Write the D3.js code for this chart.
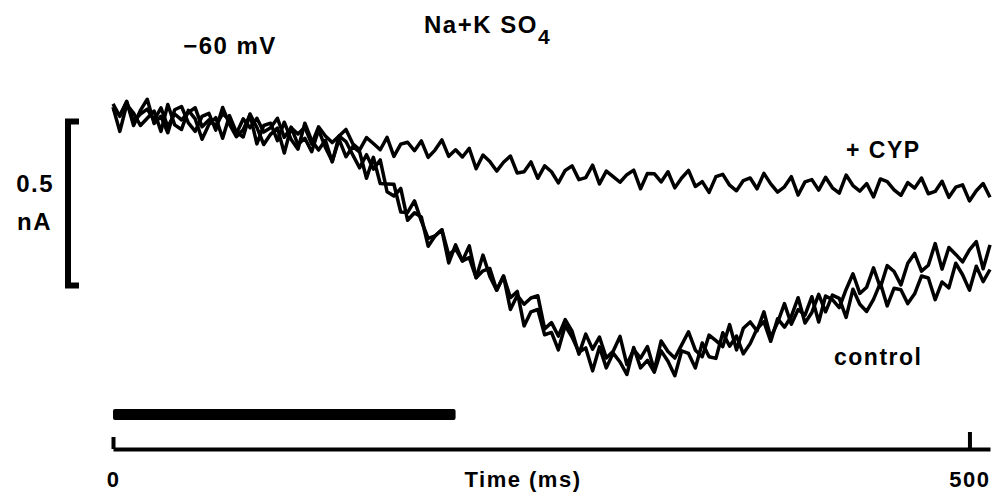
<!DOCTYPE html>
<html>
<head>
<meta charset="utf-8">
<script src="https://cdn.jsdelivr.net/npm/d3@7"></script>
<style>
  html, body { margin: 0; padding: 0; background: #fff; }
  svg text { font-family: "Liberation Sans", Arial, Helvetica, sans-serif; font-weight: bold; fill: #000; letter-spacing: 1.5px; }
</style>
</head>
<body>
<script>
// current traces in nA, one sample every 4 ms starting at t = 0
const sampleMs = 4;
const controlA = [
  0.034, -0.004, 0.042, -0.032, 0.014, 0.048, -0.026, -0.004, -0.054, 0.016,
  0.026, -0.024, -0.050, -0.004, 0.005, -0.046, 0.023, -0.028, -0.066, -0.045,
  0.001, -0.088, -0.032, -0.025, -0.078, -0.022, -0.075, -0.104, -0.025, -0.078,
  -0.107, -0.077, -0.143, -0.064, -0.081, -0.122, -0.161, -0.121, -0.165, -0.137,
  -0.234, -0.247, -0.224, -0.321, -0.298, -0.311, -0.400, -0.369, -0.350, -0.427,
  -0.408, -0.445, -0.399, -0.496, -0.475, -0.468, -0.534, -0.491, -0.593, -0.550,
  -0.577, -0.558, -0.551, -0.652, -0.633, -0.674, -0.624, -0.659, -0.729, -0.668,
  -0.714, -0.677, -0.741, -0.720, -0.675, -0.761, -0.715, -0.741, -0.706, -0.778,
  -0.689, -0.721, -0.741, -0.701, -0.661, -0.717, -0.737, -0.671, -0.688, -0.706,
  -0.639, -0.716, -0.650, -0.631, -0.658, -0.600, -0.678, -0.633, -0.575, -0.638,
  -0.593, -0.610, -0.554, -0.631, -0.552, -0.563, -0.587, -0.532, -0.484, -0.544,
  -0.525, -0.466, -0.526, -0.459, -0.477, -0.518, -0.452, -0.422, -0.476, -0.458,
  -0.392, -0.470, -0.404, -0.425, -0.448, -0.411, -0.386, -0.469, -0.396
];
const controlB = [
  0.024, -0.050, 0.032, 0.006, -0.032, -0.010, 0.012, -0.050, 0.032, -0.030,
  -0.044, 0.014, -0.012, -0.074, -0.029, -0.008, -0.071, -0.002, -0.052, -0.067,
  0.003, -0.038, -0.090, -0.059, -0.040, -0.116, -0.037, -0.090, -0.071, -0.112,
  -0.045, -0.099, -0.141, -0.074, -0.127, -0.096, -0.113, -0.193, -0.129, -0.209,
  -0.210, -0.211, -0.296, -0.297, -0.262, -0.323, -0.376, -0.369, -0.350, -0.451,
  -0.396, -0.445, -0.435, -0.496, -0.427, -0.492, -0.534, -0.491, -0.557, -0.538,
  -0.643, -0.600, -0.593, -0.670, -0.663, -0.716, -0.642, -0.677, -0.723, -0.710,
  -0.780, -0.707, -0.771, -0.726, -0.753, -0.791, -0.709, -0.771, -0.748, -0.784,
  -0.719, -0.751, -0.795, -0.719, -0.727, -0.771, -0.695, -0.737, -0.742, -0.664,
  -0.705, -0.674, -0.728, -0.697, -0.652, -0.630, -0.690, -0.621, -0.647, -0.614,
  -0.557, -0.634, -0.602, -0.547, -0.600, -0.549, -0.559, -0.617, -0.531, -0.577,
  -0.599, -0.562, -0.512, -0.582, -0.528, -0.533, -0.575, -0.545, -0.491, -0.497,
  -0.563, -0.509, -0.527, -0.452, -0.487, -0.534, -0.461, -0.508, -0.471
];
const cyp = [
  0.018, 0.000, 0.039, -0.019, 0.003, 0.018, -0.016, 0.022, -0.035, 0.003,
  -0.015, 0.008, 0.022, -0.036, -0.015, -0.033, 0.004, -0.015, -0.057, -0.012,
  -0.039, -0.010, -0.052, -0.039, -0.010, -0.068, -0.039, -0.058, -0.037, -0.089,
  -0.036, -0.064, -0.084, -0.064, -0.044, -0.088, -0.106, -0.069, -0.087, -0.106,
  -0.068, -0.126, -0.089, -0.083, -0.109, -0.079, -0.129, -0.107, -0.076, -0.126,
  -0.106, -0.128, -0.102, -0.164, -0.122, -0.142, -0.171, -0.144, -0.125, -0.177,
  -0.173, -0.143, -0.193, -0.155, -0.173, -0.207, -0.169, -0.155, -0.197, -0.191,
  -0.153, -0.210, -0.171, -0.188, -0.205, -0.182, -0.168, -0.225, -0.178, -0.179,
  -0.204, -0.173, -0.222, -0.192, -0.169, -0.218, -0.203, -0.236, -0.188, -0.181,
  -0.214, -0.231, -0.200, -0.192, -0.225, -0.178, -0.210, -0.235, -0.219, -0.188,
  -0.244, -0.204, -0.197, -0.229, -0.190, -0.222, -0.238, -0.183, -0.215, -0.232,
  -0.209, -0.250, -0.195, -0.203, -0.228, -0.245, -0.206, -0.223, -0.192, -0.240,
  -0.233, -0.202, -0.251, -0.220, -0.213, -0.262, -0.231, -0.209, -0.251
];
const timeTicks = [0, 500];
const stimulusMs = [0, 200];   // the -60 mV pulse
const scaleBar = [-0.02, -0.52]; // 0.5 nA

const width = 994, height = 492;

const svg = d3.select("body").append("svg")
    .attr("width", width)
    .attr("height", height);

const x = d3.scaleLinear().domain([0, 512]).range([113, 990]);
const y = d3.scaleLinear().domain([0, -0.5]).range([115, 279]);

const line = d3.line()
    .x((d, i) => x(i * sampleMs))
    .y(d => y(d));

[controlA, controlB, cyp].forEach(trace => {
  svg.append("path")
      .attr("d", line(trace))
      .style("fill", "none")
      .style("stroke", "#000")
      .style("stroke-width", 3.5)
      .style("stroke-linejoin", "round");
});

// labels on the traces
svg.append("text").attr("x", 846).attr("y", 158).style("font-size", "23px").text("+ CYP");
svg.append("text").attr("x", 834).attr("y", 365).style("font-size", "23px").text("control");

// top labels
svg.append("text").attr("x", 230).attr("y", 54).attr("text-anchor", "middle")
    .style("font-size", "24px").text("\u221260 mV");
const title = svg.append("text").attr("x", 424).attr("y", 33).style("font-size", "24px");
title.append("tspan").text("Na+K SO");
title.append("tspan").attr("dy", 11).style("font-size", "21px").text("4");

// vertical scale bar
svg.append("path")
    .attr("d", `M79,${y(scaleBar[0])} H68 V${y(scaleBar[1])} H79`)
    .style("fill", "none")
    .style("stroke", "#000")
    .style("stroke-width", 6);
svg.append("text").attr("x", 54).attr("y", 192).attr("text-anchor", "end")
    .style("font-size", "24px").text("0.5");
svg.append("text").attr("x", 52).attr("y", 230).attr("text-anchor", "end")
    .style("font-size", "24px").text("nA");

// stimulus bar
svg.append("rect")
    .attr("x", x(stimulusMs[0]))
    .attr("y", 409)
    .attr("width", x(stimulusMs[1]) - x(stimulusMs[0]))
    .attr("height", 11)
    .attr("rx", 2)
    .style("fill", "#000");

// time axis, ticks pointing up
const axis = d3.axisBottom(x)
    .tickValues(timeTicks)
    .tickSizeInner(-14)
    .tickSizeOuter(0)
    .tickPadding(31);

const gx = svg.append("g")
    .attr("transform", "translate(0,449)")
    .call(axis);
gx.select(".domain").style("stroke-width", 4).style("stroke", "#000");
gx.selectAll(".tick line")
    .style("stroke-width", 4)
    .style("stroke", "#000")
    .attr("y2", d => d === 0 ? -12 : -17);
gx.selectAll(".tick text")
    .style("font-size", "22px")
    .style("font-family", "Liberation Sans, Arial, sans-serif")
    .style("font-weight", "bold")
    .attr("dy", "0.32em");

svg.append("text").attr("x", 523).attr("y", 487).attr("text-anchor", "middle")
    .style("font-size", "22px").text("Time (ms)");
</script>
</body>
</html>
